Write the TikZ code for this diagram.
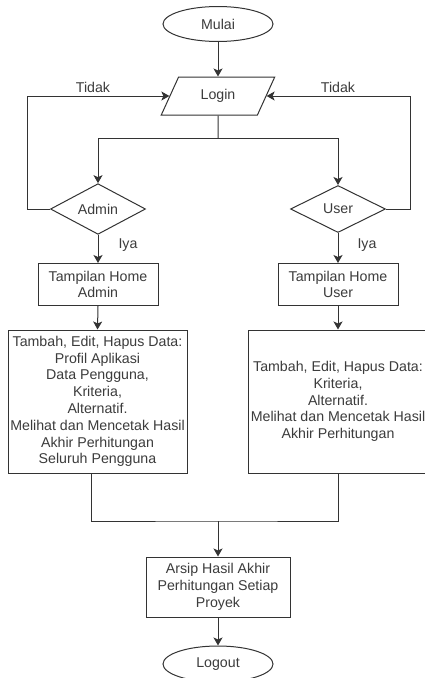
\documentclass[tikz,border=0pt]{standalone}
\usepackage{fontspec}
\setmainfont{Liberation Sans}
\usetikzlibrary{shapes.geometric,arrows.meta}
\definecolor{ln}{HTML}{333333}
\definecolor{tx}{HTML}{3C3C3C}
\tikzset{
  base/.style={draw=ln, line width=1pt, text=tx, align=center, inner sep=0pt,
    font=\fontsize{14.2}{16.8}\selectfont},
  term/.style={base, ellipse, minimum width=110pt, minimum height=35pt},
  io/.style={base, trapezium, trapezium left angle=60, trapezium right angle=120,
    trapezium stretches=true, minimum width=114pt, minimum height=38pt},
  dec/.style={base, diamond, minimum width=95pt, minimum height=47pt},
  box/.style={base, rectangle},
  lbl/.style={text=tx, font=\fontsize{14.2}{16.8}\selectfont, inner sep=0pt},
  conn/.style={draw=ln, line width=1pt},
  arr/.style={conn, -{Stealth[length=8pt,width=9pt,inset=2pt]}}
}
\begin{document}
\begin{tikzpicture}[x=1pt,y=-1pt]
\useasboundingbox[fill=white] (0,0) rectangle (425,678);
\node[term] (mulai) at (218,24) {Mulai};
\node[io] (login) at (218,96) {Login};
\node[dec] (admin) at (98,209) {Admin};
\node[dec] (user) at (338,209) {User};
\node[box, minimum width=120pt, minimum height=42pt] (hadmin) at (98,284.5) {Tampilan Home\\Admin};
\node[box, minimum width=120pt, minimum height=42pt] (huser) at (338,284.5) {Tampilan Home\\User};
\node[box, minimum width=179pt, minimum height=143pt] (badmin) at (97.5,401.5)
  {Tambah, Edit, Hapus Data:\\Profil Aplikasi\\Data Pengguna,\\Kriteria,\\Alternatif.\\Melihat dan Mencetak Hasil\\Akhir Perhitungan\\Seluruh Pengguna};
\node[box, minimum width=180pt, minimum height=143pt] (buser) at (338,401.5)
  {Tambah, Edit, Hapus Data:\\Kriteria,\\Alternatif.\\Melihat dan Mencetak Hasil\\Akhir Perhitungan};
\node[box, minimum width=144pt, minimum height=60pt] (arsip) at (218,587)
  {Arsip Hasil Akhir\\Perhitungan Setiap\\Proyek};
\node[term, minimum height=36pt] (logout) at (218,664) {Logout};

\node[lbl] (t1) at (93,87) {Tidak};
\node[lbl] (t2) at (338,87) {Tidak};
\node[lbl] (i1) at (128,245) {Iya};
\node[lbl] (i2) at (367,245) {Iya};

\coordinate (j1) at (218,138);
\coordinate (lx) at (27,209);
\coordinate (rx) at (410,209);
\coordinate (m) at (218,521);
\coordinate (ba) at (91,473);

\draw[arr] (mulai) -- (login);
\draw[conn] (login.south) -- (j1);
\draw[arr] (j1) -| (admin.north);
\draw[arr] (j1) -| (user.north);
\draw[arr] (admin.west) -- (lx) |- (login.west);
\draw[arr] (user.east) -- (rx) |- (login.east);
\draw[arr] (admin.south) -- (hadmin.north);
\draw[arr] (user.south) -- (huser.north);
\draw[arr] (hadmin.south) -- (badmin.north);
\draw[arr] (huser.south) -- (buser.north);
\draw[conn] (ba) |- (m) -| (buser.south);
\draw[arr] (m) -- (arsip.north);
\draw[arr] (arsip.south) -- (logout.north);
\end{tikzpicture}
\end{document}
